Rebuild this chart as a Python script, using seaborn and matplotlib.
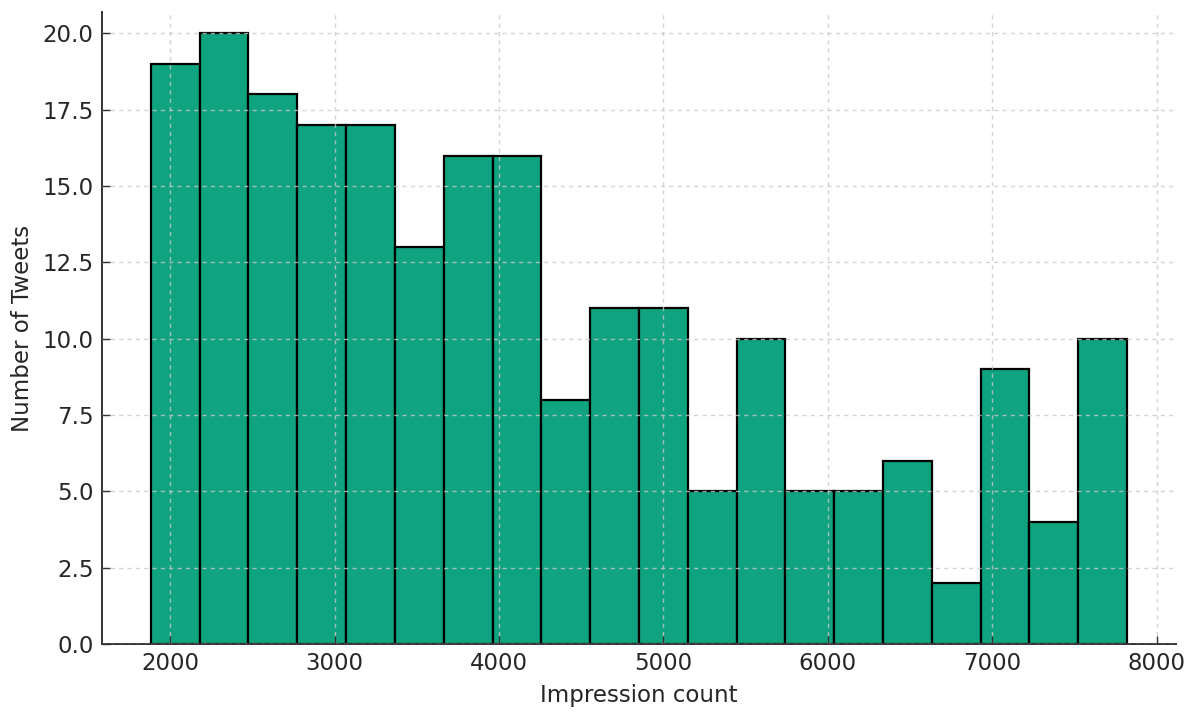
import numpy as np
import pandas as pd
import matplotlib
matplotlib.use("Agg")
import matplotlib.pyplot as plt
import seaborn as sns

# Data
bin_edges = [1883, 2180, 2476, 2773, 3070, 3367, 3664, 3961, 4258, 4554, 4851,
             5148, 5445, 5742, 6039, 6336, 6632, 6929, 7226, 7523, 7820]
counts = [19, 20, 18, 17, 17, 13, 16, 16, 8, 11, 11, 5, 10, 5, 5, 6, 2, 9, 4, 10]
x_label = "Impression count"
y_label = "Number of Tweets"

edges = np.array(bin_edges, dtype=float)
centers = (edges[:-1] + edges[1:]) / 2
df = pd.DataFrame({"impressions": centers, "n": np.array(counts, dtype=float)})

sns.set_theme(style="white")
plt.rcParams["font.family"] = ["DejaVu Sans"]

fig = plt.figure(figsize=(12, 7.19), dpi=100)
ax = fig.add_axes([0.085, 0.1043, 0.895, 0.8790])

sns.histplot(data=df, x="impressions", weights="n", bins=list(bin_edges), ax=ax,
             color="#10a37f", alpha=1.0, edgecolor="black", linewidth=1.6)

ax.set_ylim(0, 20.7)
ax.margins(x=0.05)

ax.set_axisbelow(False)
ax.grid(True, linestyle=(0, (3, 3)), color="#c8c8c8", linewidth=1.0, alpha=0.8)

for s in ["top", "right"]:
    ax.spines[s].set_visible(False)
for s in ["left", "bottom"]:
    ax.spines[s].set_color("#333333")
    ax.spines[s].set_linewidth(1.4)

ax.tick_params(axis="both", direction="in", length=6, width=1.0,
               color="#333333", labelsize=16.5, labelcolor="#262626", pad=6,
               bottom=True, left=True)

ax.set_xlabel(x_label, fontsize=16.5, color="#262626", labelpad=6)
ax.set_ylabel(y_label, fontsize=16.5, color="#262626", labelpad=6)

fig.savefig("out.png", dpi=100)
